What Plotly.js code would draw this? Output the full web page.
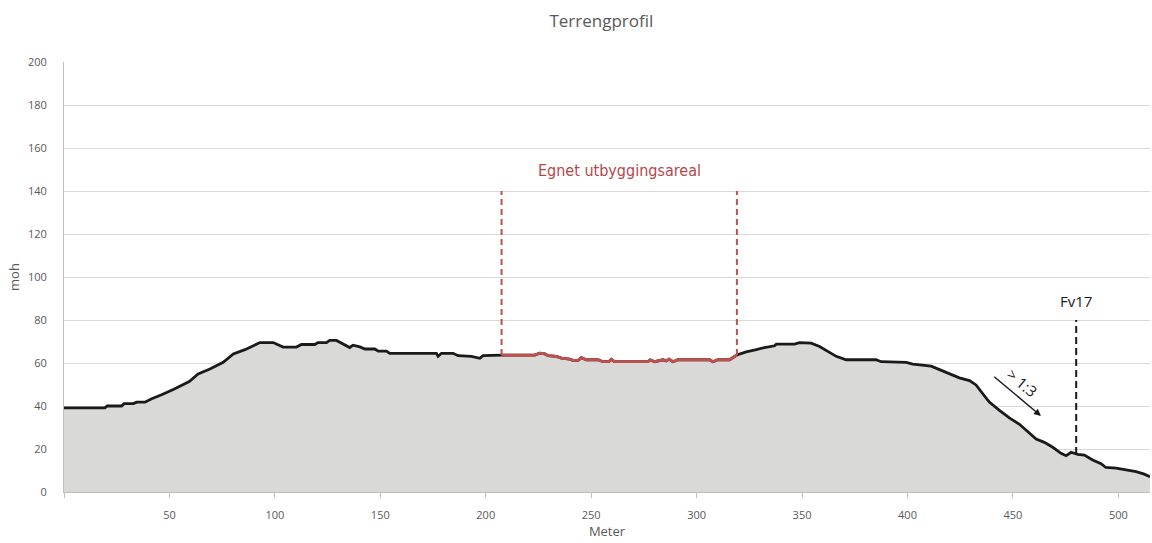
<!DOCTYPE html>
<html>
<head>
<meta charset="utf-8">
<script src="https://cdn.plot.ly/plotly-3.0.1.min.js"></script>
<style>html,body{margin:0;padding:0;background:#fff;}#chart{width:1152px;height:543px;}</style>
</head>
<body>
<div id="chart"></div>
<script>
// Terrain profile: distance (m) and elevation (moh)
var distM = [0, 19.4, 20.5, 27.3, 28.5, 32.9, 34.5, 38.4, 41.6, 46.3, 51.8, 57.3, 59.4, 63.6, 69.2, 75.5, 80.3, 85.8, 89.7, 92.9, 99.2, 103.9, 110.2, 112.6, 118.9, 120.5, 124.5, 126, 129.2, 134, 135.5, 137.1, 140.3, 142.7, 147.4, 149, 152.9, 154.5, 176.6, 177.4, 179, 184.5, 186.9, 193.2, 197.2, 198.7, 207.5,
  223.2, 225.6, 228, 229.5, 233.5, 235.9, 239.8, 241.4, 243.8, 245.3, 247.7, 253.2, 255.6, 258.4, 259.5, 261.1, 276.9, 278, 280.1, 284, 285.6, 286.9, 288.8, 291.1, 306.2, 307.7, 310.1, 315.6, 319.1,
  323.5, 328.3, 332.2, 337, 337.8, 346.4, 348.8, 354.3, 358.3, 362.2, 366.2, 370.9, 385.1, 387.5, 396.2, 399.4, 402.5, 407.3, 411.2, 415.2, 419.9, 424.6, 429.4, 432.5, 435.7, 438.8, 443.6, 448.3, 453.1, 457, 461, 464.9, 468.9, 472.8, 475.2, 477.6, 480.7, 483.9, 487.8, 491.8, 494.1, 498.9, 503.6, 508.4, 512.3, 515];
var elevM = [39.1, 39.1, 40, 40, 41.1, 41.1, 41.8, 41.8, 43.4, 45.2, 47.7, 50.3, 51.4, 54.9, 57.2, 60.3, 64.2, 66.2, 68, 69.5, 69.5, 67.4, 67.4, 68.6, 68.6, 69.5, 69.5, 70.5, 70.5, 68, 67.2, 68.3, 67.5, 66.5, 66.5, 65.5, 65.5, 64.5, 64.5, 63.1, 64.5, 64.5, 63.4, 63.1, 62.2, 63.4, 63.7,
  63.7, 64.6, 64.3, 63.4, 63.1, 62.3, 61.8, 61.2, 61.2, 62.5, 61.5, 61.5, 60.6, 60.6, 61.7, 60.6, 60.6, 61.5, 60.6, 61.5, 61.0, 61.8, 60.6, 61.5, 61.5, 60.6, 61.5, 61.5, 63.7,
  65.2, 66.2, 67.2, 68, 68.8, 68.8, 69.5, 69.2, 67.7, 65.4, 63.1, 61.5, 61.5, 60.6, 60.6, 60.3, 59.5, 59.1, 58.5, 56.9, 54.9, 53.1, 51.8, 49.8, 45.7, 41.8, 38, 34.5, 31.5, 28, 24.6, 23.1, 20.8, 18, 16.9, 18.5, 17.5, 17.2, 14.9, 13.2, 11.4, 11.1, 10.3, 9.5, 8.3, 7.1];

// Suitable development area bounds (m) and marker height
var suitStart = 207.5;
var suitEnd = 319.1;
var suitTop = 140;
var suitLabel = "Egnet utbyggingsareal";

// Road marker
var roadX = 480;
var roadTop = 80;
var roadLabel = "Fv17";

// Slope annotation
var slopeLabel = "> 1:3";
var slopeFrom = [440.4, 54.2];
var slopeTo = [463.3, 35.4];

var yTicks = [0, 20, 40, 60, 80, 100, 120, 140, 160, 180, 200];
var xTicks = [0, 50, 100, 150, 200, 250, 300, 350, 400, 450, 500];
var xTickText = ["", "50", "100", "150", "200", "250", "300", "350", "400", "450", "500"];

function elevAt(x) {
  for (var i = 0; i < distM.length - 1; i++) {
    if (x >= distM[i] && x <= distM[i + 1]) {
      var t = (x - distM[i]) / (distM[i + 1] - distM[i] || 1);
      return elevM[i] + t * (elevM[i + 1] - elevM[i]);
    }
  }
  return elevM[elevM.length - 1];
}

var redX = [], redY = [];
for (var i = 0; i < distM.length; i++) {
  if (distM[i] >= suitStart && distM[i] <= suitEnd) { redX.push(distM[i]); redY.push(elevM[i]); }
}

var textColor = '#595959';
var redColor = '#c0504d';
var font = "'Open Sans', 'Noto Sans', sans-serif";

var traces = [
  {x: distM, y: elevM, type: 'scatter', mode: 'lines', fill: 'tozeroy',
   fillcolor: '#d9dad8', line: {color: '#1a1a1a', width: 2.8}, hoverinfo: 'skip'},
  {x: redX, y: redY, type: 'scatter', mode: 'lines',
   line: {color: redColor, width: 2.8}, hoverinfo: 'skip'}
];

var layout = {
  width: 1152, height: 543,
  paper_bgcolor: '#ffffff', plot_bgcolor: '#ffffff',
  showlegend: false,
  margin: {l: 64, r: 2, t: 62, b: 51},
  font: {family: font, color: textColor, size: 11},
  title: {text: 'Terrengprofil', x: 0.522, xanchor: 'center', y: 0.962, yanchor: 'middle',
          font: {family: font, size: 17, color: textColor}},
  xaxis: {range: [0, 515], tickvals: xTicks, ticktext: xTickText, showgrid: false,
          showline: true, linecolor: '#bfbfbf', linewidth: 1, ticks: 'outside', ticklen: 5,
          tickcolor: '#bfbfbf', ticklabelstandoff: 8, zeroline: false,
          tickfont: {family: font, size: 11, color: textColor},
          title: {text: 'Meter', standoff: 5, font: {family: font, size: 13, color: textColor}}},
  yaxis: {range: [0, 200], tickvals: yTicks, showgrid: true, gridcolor: '#d9d9d9', gridwidth: 1,
          showline: true, linecolor: '#bfbfbf', linewidth: 1, zeroline: false, ticks: '',
          ticklabelstandoff: 14,
          tickfont: {family: font, size: 11, color: textColor},
          title: {text: 'moh', standoff: 5, font: {family: font, size: 13, color: textColor}}},
  shapes: [
    {type: 'line', xref: 'x', yref: 'y', x0: suitStart, x1: suitStart, y0: elevAt(suitStart), y1: suitTop,
     line: {color: redColor, width: 2, dash: '6px,4px'}},
    {type: 'line', xref: 'x', yref: 'y', x0: suitEnd, x1: suitEnd, y0: elevAt(suitEnd), y1: suitTop,
     line: {color: redColor, width: 2, dash: '6px,4px'}},
    {type: 'line', xref: 'x', yref: 'y', x0: roadX, x1: roadX, y0: elevAt(roadX), y1: roadTop,
     line: {color: '#1a1a1a', width: 2, dash: '7px,4px'}}
  ],
  annotations: [
    {x: (suitStart + suitEnd) / 2, y: 149.5, xref: 'x', yref: 'y', text: suitLabel, showarrow: false,
     font: {family: "'Liberation Sans Narrow', 'DejaVu Sans Condensed', sans-serif", size: 16, color: '#b5474b'}},
    {x: roadX, y: 89, xref: 'x', yref: 'y', text: roadLabel, showarrow: false,
     font: {family: font, size: 15, color: '#1a1a1a'}},
    {x: slopeTo[0], y: slopeTo[1], ax: slopeFrom[0], ay: slopeFrom[1], xref: 'x', yref: 'y',
     axref: 'x', ayref: 'y', text: '', showarrow: true, arrowhead: 2, arrowsize: 1, arrowwidth: 1.4,
     arrowcolor: '#1a1a1a'},
    {x: 454.5, y: 50.5, xref: 'x', yref: 'y', text: slopeLabel, showarrow: false, textangle: 40,
     font: {family: font, size: 15, color: '#1a1a1a'}}
  ]
};

Plotly.newPlot('chart', traces, layout, {displayModeBar: false, staticPlot: true});
</script>
</body>
</html>
